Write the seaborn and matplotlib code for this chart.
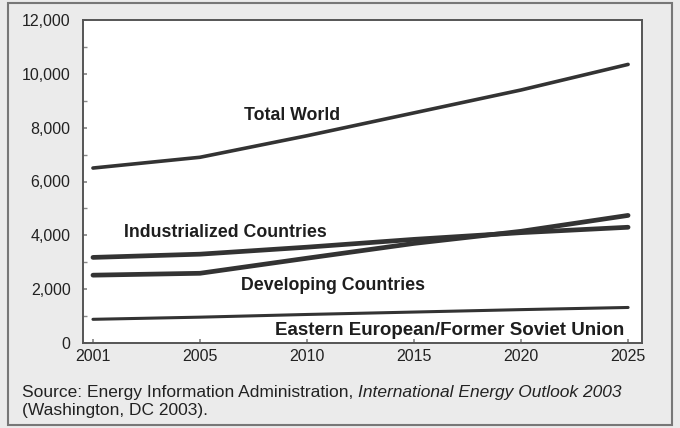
import matplotlib
matplotlib.use("Agg")
import matplotlib.pyplot as plt
import seaborn as sns
import pandas as pd
from matplotlib.patches import Rectangle
from matplotlib.ticker import MultipleLocator, FuncFormatter

years = ["2001", "2005", "2010", "2015", "2020", "2025"]
total_world = [6500, 6900, 7700, 8550, 9400, 10350]
industrialized = [3180, 3300, 3560, 3850, 4100, 4300]
developing = [2520, 2590, 3150, 3700, 4150, 4740]
ee_fsu = [880, 960, 1060, 1150, 1240, 1320]

series_names = ["Total World", "Industrialized Countries", "Developing Countries",
                "Eastern European/Former Soviet Union"]
source_line1 = "Source: Energy Information Administration, "
source_italic = "International Energy Outlook 2003"
source_line2 = "(Washington, DC 2003)."

sns.set_theme(style="white")
plt.rcParams["font.family"] = ["Liberation Sans", "DejaVu Sans"]

fig = plt.figure(figsize=(6.8, 4.28), dpi=100, facecolor="#ebebeb")
ax = fig.add_axes([83 / 680, 1 - 343 / 428, (642 - 83) / 680, (343 - 20) / 428])
ax.set_facecolor("white")

line_color = "#333333"
data = [(total_world, 2.6), (industrialized, 3.4), (developing, 3.4), (ee_fsu, 2.2)]
for vals, lw in data:
    df = pd.DataFrame({"year": years, "value": vals})
    sns.lineplot(data=df, x="year", y="value", ax=ax, color=line_color,
                 linewidth=lw, sort=False)

ax.set_xlim(-0.093, 5.13)
ax.set_ylim(0, 12000)
ax.yaxis.set_major_locator(MultipleLocator(2000))
ax.yaxis.set_minor_locator(MultipleLocator(1000))
ax.yaxis.set_major_formatter(FuncFormatter(lambda v, p: f"{int(v):,}"))
ax.set_xlabel("")
ax.set_ylabel("")

for s in ax.spines.values():
    s.set_color("#555555")
    s.set_linewidth(1.4)

ax.tick_params(axis="y", which="both", direction="in", length=3, color="#888888",
               labelsize=11.5, labelcolor="#222222", pad=9, left=True)
ax.tick_params(axis="x", which="both", direction="in", length=3, color="#888888",
               labelsize=11.5, labelcolor="#222222", pad=4, bottom=True)

txt_kw = dict(color="#1e1e1e", fontsize=12.8, ha="center", va="center",
              fontweight="bold")
ax.text(1.86, 8440, series_names[0], **txt_kw)
ax.text(1.24, 4110, series_names[1], **txt_kw)
ax.text(2.24, 2150, series_names[2], **txt_kw)
ax.text(3.33, 480, series_names[3], **dict(txt_kw, fontsize=13.5))

# source note
src_fs = 12.5
t1 = fig.text(22 / 680, 1 - 392 / 428, source_line1, fontsize=src_fs, color="#222222",
              va="center", ha="left")
fig.canvas.draw()
bb = t1.get_window_extent()
fig.text(bb.x1 / 680, 1 - 392 / 428, source_italic, fontsize=src_fs, color="#222222",
         va="center", ha="left", style="italic")
fig.text(22 / 680, 1 - 410 / 428, source_line2, fontsize=src_fs, color="#222222",
         va="center", ha="left")

# outer frame
fig.patches.append(Rectangle((8 / 680, 3 / 428), (672 - 8) / 680, (425 - 3) / 428,
                             transform=fig.transFigure, fill=False,
                             edgecolor="#777777", linewidth=1.5))

fig.savefig("out.png", dpi=100, facecolor=fig.get_facecolor())
